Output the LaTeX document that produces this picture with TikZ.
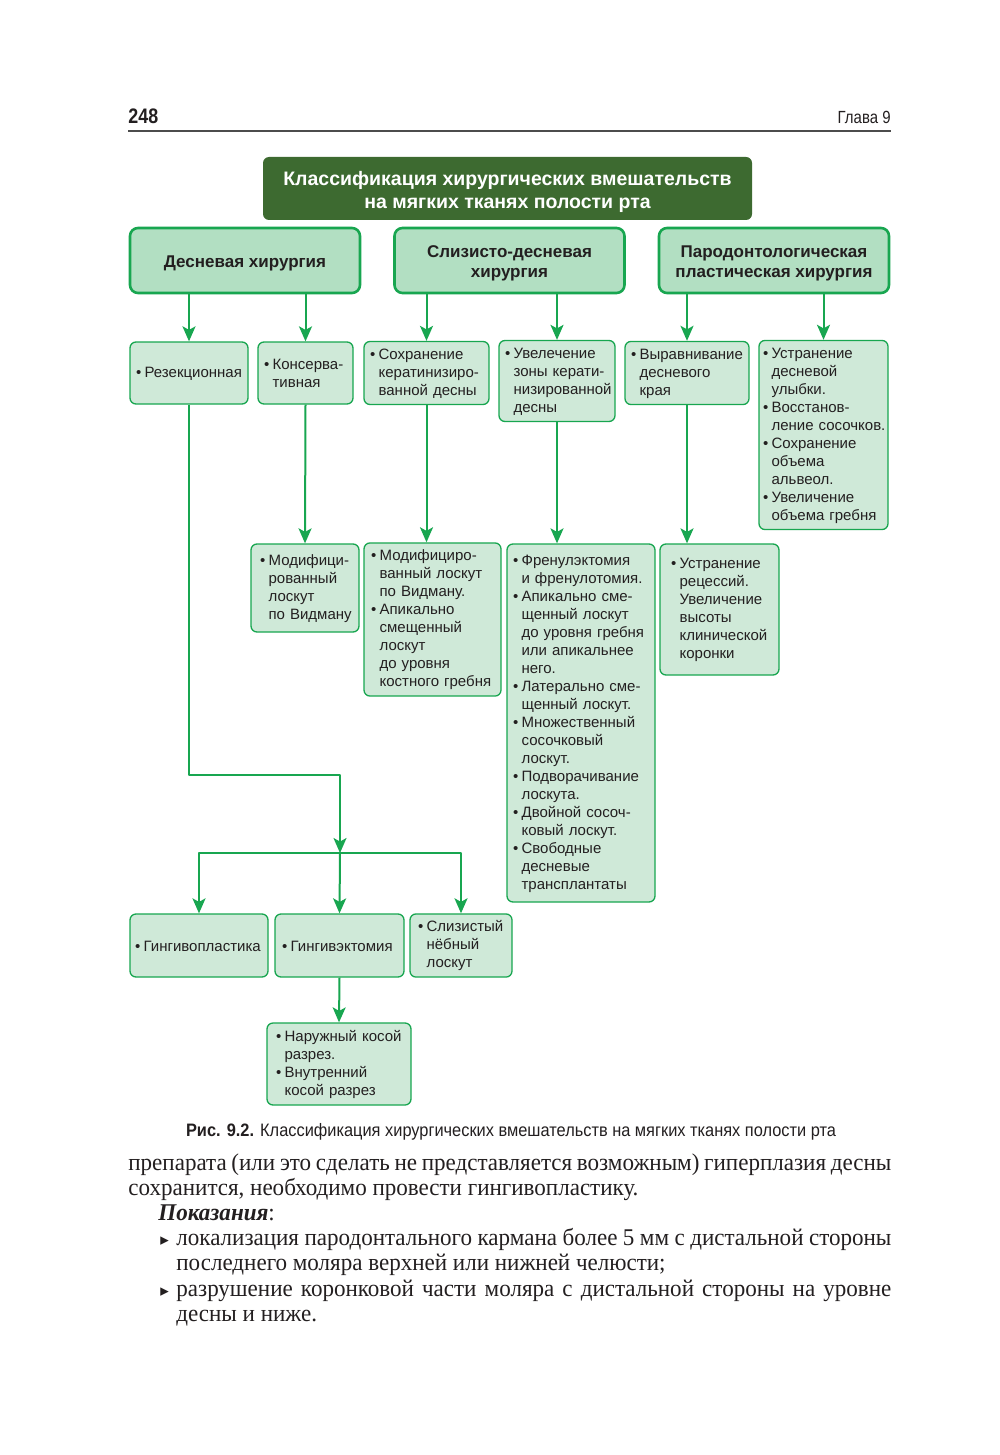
\documentclass[tikz,border=0pt]{standalone}
\usepackage{fontspec}
\setmainfont{Liberation Serif}
\newfontfamily\boxfont{Liberation Sans}
\newfontfamily\condfont[FakeStretch=0.85]{Liberation Sans}
\newfontfamily\capfont[FakeStretch=0.91]{Liberation Sans}
\newfontfamily\bodyfont[FakeStretch=0.96]{Liberation Serif}
\newfontfamily\symfont{DejaVu Sans}
\usetikzlibrary{arrows.meta}

\definecolor{titlegreen}{RGB}{61,106,48}
\definecolor{linegreen}{RGB}{24,166,80}
\definecolor{maingreen}{RGB}{178,223,194}
\definecolor{itemgreen}{RGB}{207,233,216}
\definecolor{inkgray}{RGB}{35,31,32}

% one bullet item inside a box
\newcommand{\itm}[1]{\par\noindent\hangindent=4.3pt\hangafter=1\makebox[4.3pt][l]{\textbullet}#1\par}
% one bullet item of the running text
\newcommand{\txtitem}{\par\noindent\hangindent=24pt\hangafter=1\hspace*{16pt}\makebox[8pt][l]{\symfont\fontsize{8.5}{8.5}\selectfont ▸}}
% pushes the first line of a centred box down a little
\newcommand{\upstrut}[1]{\rule{0pt}{#1}}

\tikzset{
  titlebox/.style={fill=titlegreen, rounded corners=3pt, text=white, align=center,
    font=\boxfont\bfseries\fontsize{9.75}{11.5}\selectfont, inner sep=0pt},
  mainbox/.style={draw=linegreen, line width=1.3pt, fill=maingreen, rounded corners=4pt,
    align=center, text=inkgray, font=\boxfont\bfseries\fontsize{8.5}{10}\selectfont,
    inner sep=0pt, minimum width=115pt, minimum height=32.5pt},
  itembox/.style={draw=linegreen, line width=0.65pt, fill=itemgreen, rounded corners=3pt,
    align=left, text=inkgray, font=\boxfont\fontsize{7.5}{9}\selectfont,
    inner xsep=3pt, inner ysep=0pt, execute at end node={\par\vspace*{3pt}}},
  conn/.style={draw=linegreen, line width=1pt},
  arr/.style={conn, -{Stealth[length=7.5pt,width=6.5pt,inset=1.8pt]}}
}

\begin{document}
\begin{tikzpicture}[x=0.5pt, y=-0.5pt, line join=round]
\fill[white] (0,0) rectangle (1000,1455);
\useasboundingbox (0,0) rectangle (1000,1455);

% page head
\node[anchor=base west, inner sep=0, text=inkgray, font=\condfont\bfseries\fontsize{10.5}{12}\selectfont] (pagenum) at (128,124) {248};
\node[anchor=base east, inner sep=0, text=inkgray, font=\condfont\fontsize{8.8}{12}\selectfont] (chapter) at (891,124) {Глава 9};
\draw[line width=0.7pt, black!70] (128,131) -- (891,131);

% title and the three kinds of surgery
\node[titlebox, minimum width=244.5pt, minimum height=31.5pt] (title) at (507.5,188.5)
  {\upstrut{10.3pt}Классификация хирургических вмешательств\\на мягких тканях полости рта};
\node[mainbox] (gum) at (245,260.5) {\upstrut{8.4pt}Десневая хирургия};
\node[mainbox] (mucgum) at (509.5,260.5) {\upstrut{8.4pt}Слизисто-десневая\\хирургия};
\node[mainbox] (plast) at (774,260.5) {\upstrut{8.4pt}Пародонтологическая\\пластическая хирургия};

% second row
\node[itembox, minimum width=59pt, minimum height=31pt, text width=53pt] (resect) at (189,373)
  {\itm{Резекционная}};
\node[itembox, minimum width=47.5pt, minimum height=31pt, text width=41.5pt] (conserv) at (305.5,373)
  {\itm{Консерва-\newline тивная}};
\node[itembox, minimum width=62.5pt, minimum height=31pt, text width=56.5pt] (keep) at (426.5,373)
  {\itm{Сохранение\newline кератинизиро-\newline ванной~десны}};
\node[itembox, minimum width=58pt, minimum height=39pt, text width=52pt] (enlarge) at (557,381)
  {\itm{Увелечение\newline зоны~керати-\newline низированной\newline десны}};
\node[itembox, minimum width=62pt, minimum height=31pt, text width=56pt] (level) at (687,373)
  {\itm{Выравнивание\newline десневого\newline края}};
\node[itembox, minimum width=64.5pt, minimum height=93pt, text width=60.5pt, inner xsep=2pt] (smile) at (823.5,435)
  {\itm{Устранение\newline десневой\newline улыбки.}
   \itm{Восстанов-\newline ление~сосочков.}
   \itm{Сохранение\newline объема\newline альвеол.}
   \itm{Увеличение\newline объема~гребня}};

% third row
\node[itembox, minimum width=54pt, minimum height=44pt, text width=45pt, inner xsep=4.5pt] (widman) at (305,588)
  {\itm{Модифици-\newline рованный\newline лоскут\newline по~Видману}};
\node[itembox, minimum width=68.5pt, minimum height=75.5pt, text width=61.5pt, inner xsep=3.5pt] (apical) at (432.5,619.5)
  {\itm{Модифициро-\newline ванный~лоскут\newline по~Видману.}
   \itm{Апикально\newline смещенный\newline лоскут\newline до~уровня\newline костного~гребня}};
\node[itembox, minimum width=74pt, minimum height=179pt, text width=68pt] (frenum) at (581,723)
  {\itm{Френулэктомия\newline и~френулотомия.}
   \itm{Апикально~сме-\newline щенный~лоскут\newline до~уровня~гребня\newline или~апикальнее\newline него.}
   \itm{Латерально~сме-\newline щенный~лоскут.}
   \itm{Множественный\newline сосочковый\newline лоскут.}
   \itm{Подворачивание\newline лоскута.}
   \itm{Двойной~сосоч-\newline ковый~лоскут.}
   \itm{Свободные\newline десневые\newline трансплантаты}};
\node[itembox, minimum width=59.5pt, minimum height=65.5pt, text width=48.5pt, inner xsep=5.5pt] (recess) at (719.5,609.5)
  {\itm{Устранение\newline рецессий.\newline Увеличение\newline высоты\newline клинической\newline коронки}};

% fourth and fifth rows
\node[itembox, minimum width=69pt, minimum height=31.5pt, text width=64pt, inner xsep=2.5pt] (plasty) at (199,945.5)
  {\itm{Гингивопластика}};
\node[itembox, minimum width=64.5pt, minimum height=31.5pt, text width=57.5pt, inner xsep=3.5pt] (ectomy) at (339.5,945.5)
  {\itm{Гингивэктомия}};
\node[itembox, minimum width=51pt, minimum height=31.5pt, text width=43pt, inner xsep=4pt] (palat) at (461,945.5)
  {\itm{Слизистый\newline нёбный\newline лоскут}};
\node[itembox, minimum width=72pt, minimum height=41pt, text width=63pt, inner xsep=4.5pt] (incis) at (339,1064)
  {\itm{Наружный~косой\newline разрез.}
   \itm{Внутренний\newline косой~разрез}};

% connectors
\draw[arr] (gum.south -| resect) -- (resect.north);
\draw[arr] (gum.south -| conserv) -- (conserv.north);
\draw[arr] (mucgum.south -| keep) -- (keep.north);
\draw[arr] (mucgum.south -| enlarge) -- (enlarge.north);
\draw[arr] (plast.south -| level) -- (level.north);
\draw[arr] (plast.south -| smile) -- (smile.north);

\draw[arr] (conserv.south) -- (widman.north);
\draw[arr] (keep.south) -- (keep.south |- apical.north);
\draw[arr] (enlarge.south) -- (enlarge.south |- frenum.north);
\draw[arr] (level.south) -- (level.south |- recess.north);

\coordinate (bend) at (340,775);
\coordinate (split) at (340,853);
\draw[arr] (resect.south) |- (bend) -- (split);
\draw[arr] (split) -| (plasty.north);
\draw[arr] (split) -- (ectomy.north);
\draw[arr] (split) -| (palat.north);
\draw[arr] (ectomy.south) -- (incis.north);

% caption
\node[anchor=base, inner sep=0, text=inkgray, font=\capfont\fontsize{9}{10}\selectfont] (caption) at (511,1136)
  {\textbf{Рис. 9.2.} Классификация хирургических вмешательств на мягких тканях полости рта};

% running text
\node[anchor=north west, inner sep=0, text width=381.5pt, align=justify, text=inkgray,
  font=\bodyfont\fontsize{12}{12.6}\selectfont] (body) at (128,1153)
  {\hyphenpenalty=10000\tolerance=9999\noindent
   препарата (или это сделать не представляется возможным) гиперплазия десны\linebreak
   сохранится, необходимо провести гингивопластику.\par
   \noindent\hspace*{15pt}{\bfseries\itshape Показания}:
   \txtitem локализация пародонтального кармана более 5 мм с дистальной стороны\linebreak
   последнего моляра верхней или нижней челюсти;
   \txtitem разрушение коронковой части моляра с дистальной стороны на уровне\linebreak
   десны и ниже.\par};
\end{tikzpicture}
\end{document}
